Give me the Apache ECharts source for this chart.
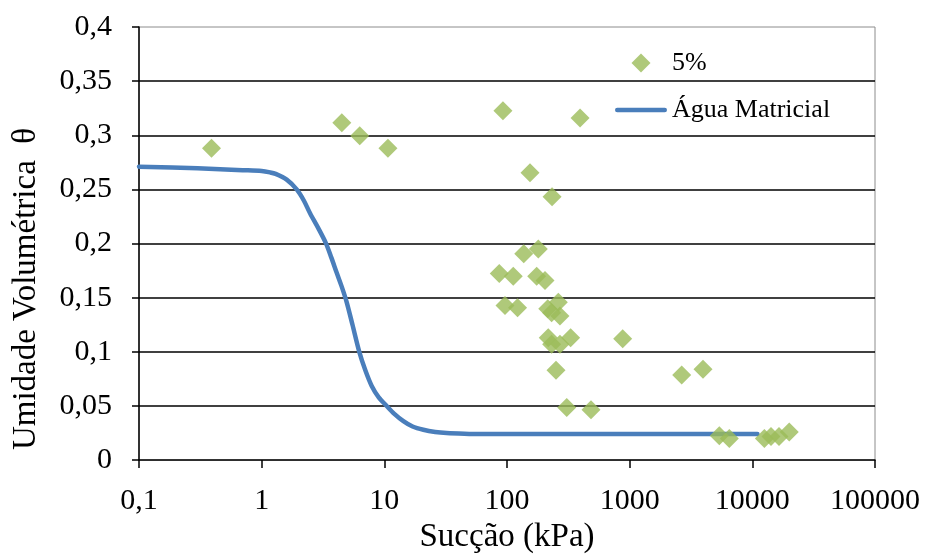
<!DOCTYPE html>
<html>
<head>
<meta charset="utf-8">
<script src="https://cdn.jsdelivr.net/npm/echarts@6/dist/echarts.min.js"></script>
<style>
  html, body { margin: 0; padding: 0; background: #fff; }
  #chart { width: 925px; height: 559px; }
</style>
</head>
<body>
<div id="chart"></div>
<script>
// Measured points, 5% sample: suction (kPa) and volumetric water content
const pointSuction = [0.39, 4.5, 6.3, 10.7, 92.7, 394, 154, 233, 137, 180, 86.5, 112.5, 174.6, 204,
  96.3, 122, 215, 262, 270, 231, 217, 231, 270, 330, 877, 251, 307, 484, 2656, 3961,
  5380, 6490, 12530, 14200, 16500, 20000];
const pointTheta = [0.288, 0.3115, 0.2995, 0.288, 0.3226, 0.316, 0.2654, 0.2433, 0.1905, 0.195, 0.1723, 0.1699, 0.1699, 0.1659,
  0.1429, 0.1407, 0.1398, 0.1459, 0.133, 0.136, 0.113, 0.107, 0.107, 0.113, 0.112, 0.083, 0.0486, 0.0464, 0.0786, 0.0839,
  0.0224, 0.020, 0.020, 0.0218, 0.0218, 0.026];

// Fitted retention curve (matric water)
const curveSuction = [0.1, 0.3, 0.7, 1, 1.17, 1.3, 1.6, 1.93, 2.2, 2.48, 2.9, 3.35, 3.7, 4.09, 4.5, 4.93, 5.5, 6.25, 7, 7.89,
  9, 10.45, 12, 14.3, 17, 20.8, 26, 32.2, 45, 60, 100, 1000, 11000];
const curveTheta = [0.271, 0.2695, 0.2678, 0.267, 0.2657, 0.2643, 0.259, 0.25, 0.24, 0.228, 0.214, 0.2, 0.187, 0.173, 0.16, 0.146, 0.125, 0.1, 0.083, 0.0685,
  0.058, 0.05, 0.043, 0.036, 0.031, 0.028, 0.026, 0.025, 0.0243, 0.024, 0.024, 0.024, 0.024];

const seriesNames = ['5%', 'Água Matricial'];
const xTitle = 'Sucção (kPa)';
const yTitle = 'Umidade Volumétrica  θ';

const FONT = '"Liberation Serif", "Times New Roman", serif';
const fmt = v => String(Number(v.toPrecision(6))).replace('.', ',');

const chart = echarts.init(document.getElementById('chart'), null, { renderer: 'canvas' });
chart.setOption({
  animation: false,
  backgroundColor: '#ffffff',
  grid: { left: 139, right: 50, top: 27, bottom: 98, show: true, borderColor: '#8c8c8c', borderWidth: 1, backgroundColor: 'transparent' },
  legend: {
    orient: 'vertical',
    left: 615,
    top: 50,
    padding: 0,
    itemWidth: 52,
    itemHeight: 19,
    itemGap: 21,
    symbolKeepAspect: true,
    textStyle: { fontFamily: FONT, fontSize: 26, color: '#000' },
    data: [
      { name: seriesNames[0], icon: 'path://M0,-1L1,0L0,1L-1,0Z' },
      { name: seriesNames[1], icon: 'path://M2,0H50A2,2 0 0 1 50,4.5H2A2,2 0 0 1 2,0Z' }
    ]
  },
  xAxis: {
    type: 'log',
    logBase: 10,
    min: 0.1,
    max: 100000,
    name: xTitle,
    nameLocation: 'middle',
    nameGap: 57,
    nameTextStyle: { fontFamily: FONT, fontSize: 33, color: '#000' },
    axisLine: { show: true, onZero: false, lineStyle: { color: '#000', width: 1.5 } },
    axisTick: { show: true, length: 8, lineStyle: { color: '#000', width: 1.5 } },
    minorTick: { show: false },
    splitLine: { show: false },
    axisLabel: { fontFamily: FONT, fontSize: 30, color: '#000', margin: 26, formatter: fmt }
  },
  yAxis: {
    type: 'value',
    min: 0,
    max: 0.4,
    interval: 0.05,
    axisLine: { show: true, lineStyle: { color: '#000', width: 1.5 } },
    axisTick: { show: true, length: 7, lineStyle: { color: '#000', width: 1.5 } },
    splitLine: { show: true, showMinLine: false, showMaxLine: false, lineStyle: { color: '#000', width: 1.5 } },
    axisLabel: { fontFamily: FONT, fontSize: 30, color: '#000', margin: 27, formatter: fmt }
  },
  graphic: [{
    type: 'text',
    x: 26,
    y: 289,
    rotation: Math.PI / 2,
    style: {
      text: yTitle,
      font: '33px ' + FONT,
      fill: '#000',
      align: 'center',
      verticalAlign: 'middle',
      textAlign: 'center',
      textVerticalAlign: 'middle'
    }
  }],
  series: [
    {
      name: seriesNames[0],
      type: 'scatter',
      symbol: 'diamond',
      symbolSize: 19,
      itemStyle: { color: '#9bbb59' },
      data: pointSuction.map((x, i) => [x, pointTheta[i]]),
      z: 3
    },
    {
      name: seriesNames[1],
      type: 'line',
      showSymbol: false,
      symbol: 'none',
      smooth: 0.3,
      lineStyle: { color: '#4a7ebb', width: 4.5, cap: 'round', join: 'round' },
      itemStyle: { color: '#4a7ebb' },
      data: curveSuction.map((x, i) => [x, curveTheta[i]]),
      z: 2
    }
  ]
});
</script>
</body>
</html>
